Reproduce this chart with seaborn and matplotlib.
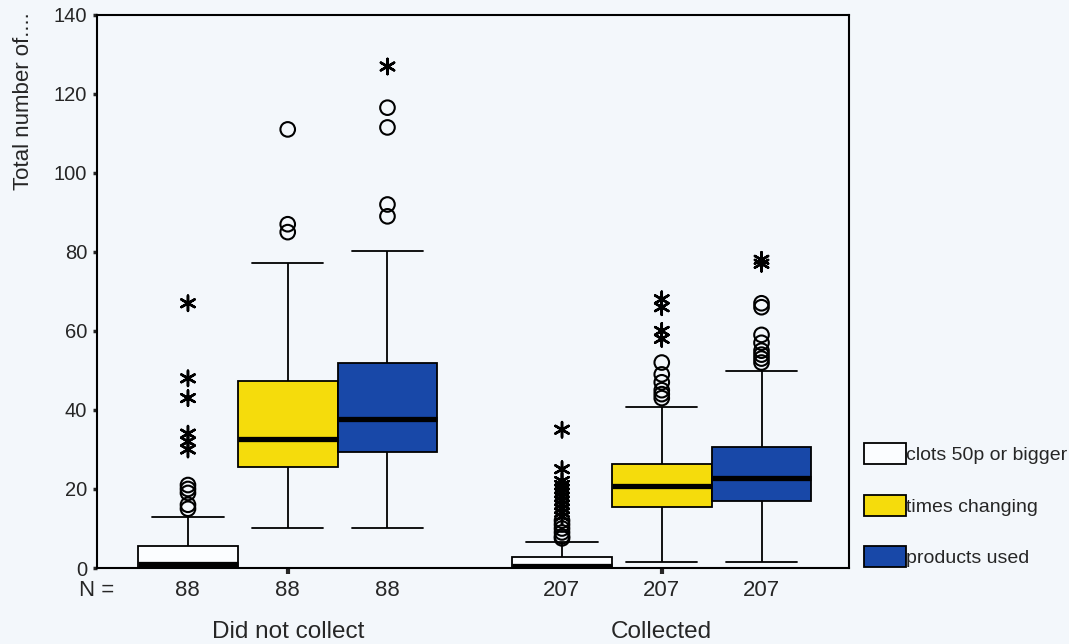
import matplotlib
matplotlib.use("Agg")
import matplotlib.pyplot as plt
import numpy as np
import pandas as pd
import seaborn as sns

groups = ["Did not collect", "Collected"]
measures = ["clots 50p or bigger", "times changing", "products used"]
n_counts = [88, 207]

# whisker low, Q1, median, Q3, whisker high
dnc_clots = [0, 0, 1, 5.5, 13]
dnc_times = [10, 25.6, 32.7, 47.3, 77.2]
dnc_products = [10, 29.4, 37.7, 52, 80.3]
col_clots = [0, 0, 0.5, 2.8, 6.6]
col_times = [1.5, 15.4, 20.8, 26.3, 40.8]
col_products = [1.5, 17, 22.8, 30.7, 49.9]

# outliers (circles)
dnc_clots_out = [15, 16, 19, 20, 21]
dnc_times_out = [85, 87, 111]
dnc_products_out = [89, 92, 111.5, 116.5]
col_clots_out = [7.5, 8, 9, 10, 11, 12]
col_times_out = [43, 44, 45, 47, 49, 52]
col_products_out = [52, 53, 54, 55, 57, 59, 66, 67]

# extremes (asterisks)
dnc_clots_ext = [30, 32, 34, 43, 48, 67]
dnc_times_ext = []
dnc_products_ext = [127]
col_clots_ext = [13, 14, 15, 16, 17, 18, 19, 20, 21, 22, 25, 35]
col_times_ext = [58, 60, 66, 68]
col_products_ext = [77, 78]

colors = ["#fbfdff", "#f5dc0c", "#1848a8"]
bg = "#f3f7fb"


def long_df(table):
    rows = []
    for (g, m), vals in table.items():
        for v in vals:
            rows.append({"group": g, "measure": m, "value": v})
    return pd.DataFrame(rows, columns=["group", "measure", "value"])


summ = long_df({
    (groups[0], measures[0]): dnc_clots, (groups[0], measures[1]): dnc_times,
    (groups[0], measures[2]): dnc_products, (groups[1], measures[0]): col_clots,
    (groups[1], measures[1]): col_times, (groups[1], measures[2]): col_products,
})
outs = long_df({
    (groups[0], measures[0]): dnc_clots_out, (groups[0], measures[1]): dnc_times_out,
    (groups[0], measures[2]): dnc_products_out, (groups[1], measures[0]): col_clots_out,
    (groups[1], measures[1]): col_times_out, (groups[1], measures[2]): col_products_out,
})
exts = long_df({
    (groups[0], measures[0]): dnc_clots_ext, (groups[0], measures[1]): dnc_times_ext,
    (groups[0], measures[2]): dnc_products_ext, (groups[1], measures[0]): col_clots_ext,
    (groups[1], measures[1]): col_times_ext, (groups[1], measures[2]): col_products_ext,
})

sns.set_style("white")
plt.rcParams["font.family"] = ["Liberation Sans", "DejaVu Sans"]

fig = plt.figure(figsize=(10.69, 6.44), dpi=100, facecolor=bg)
ax = fig.add_axes([0.0907, 0.118, 0.7033, 0.859])
ax.set_facecolor(bg)

box_kws = dict(
    data=summ, x="group", y="value", hue="measure", order=groups,
    hue_order=measures, palette=colors, saturation=1, width=0.8, gap=0,
    whis=(0, 100), showfliers=False, linecolor="black", linewidth=1.3,
    medianprops=dict(linewidth=3.8, color="black"), ax=ax,
)
try:
    sns.boxplot(capwidths=0.19, **box_kws)
except TypeError:
    sns.boxplot(**box_kws)

n0 = len(ax.collections)
sns.stripplot(data=outs, x="group", y="value", hue="measure", order=groups,
              hue_order=measures, palette=["black"] * 3, dodge=True,
              jitter=False, marker="o", size=10.5, legend=False, ax=ax)
for coll in ax.collections[n0:]:
    coll.set_facecolor("none")
    coll.set_edgecolor("black")
    coll.set_linewidth(1.5)

n1 = len(ax.collections)
sns.stripplot(data=exts, x="group", y="value", hue="measure", order=groups,
              hue_order=measures, palette=["black"] * 3, dodge=True,
              jitter=False, marker=(6, 2, 0), size=11, legend=False, ax=ax)
for coll in ax.collections[n1:]:
    coll.set_edgecolor("black")
    coll.set_linewidth(1.8)

ax.set_xlim(-0.51, 1.5)
ax.set_ylim(0, 140)
ax.set_yticks(np.arange(0, 141, 20))
ax.tick_params(axis="y", direction="out", length=3, width=2.5, labelsize=14.5,
               pad=4, left=True)
ax.tick_params(axis="x", direction="out", length=4, width=3, labelsize=17.5,
               pad=34, bottom=True)
ax.set_xlabel("")
ax.set_ylabel("Total number of....", fontsize=16, loc="top")
ax.yaxis.set_label_coords(-0.084, 1.005)
for sp in ax.spines.values():
    sp.set_visible(True)
    sp.set_color("black")
    sp.set_linewidth(1.5)

# N = row under each box (box centres taken from the drawn patches)
trans = ax.get_xaxis_transform()
centers = set()
for p in ax.patches:
    xs = p.get_path().vertices[:, 0]
    if xs.max() - xs.min() < 0.4:
        centers.add(round((xs.min() + xs.max()) / 2, 3))
for c in sorted(centers):
    ax.text(c, -0.04, str(n_counts[int(round(c))]), transform=trans,
            ha="center", va="center", fontsize=16)
ax.text(0.0, -0.04, "N =", transform=ax.transAxes, ha="center", va="center",
        fontsize=16)

sns.move_legend(ax, "lower left", bbox_to_anchor=(0.997, -0.03), frameon=False,
                title=None, fontsize=14, handlelength=2.15, handleheight=1.3,
                labelspacing=1.55, handletextpad=0.0)

plt.savefig("out.png", dpi=100, facecolor=bg)
plt.close()
